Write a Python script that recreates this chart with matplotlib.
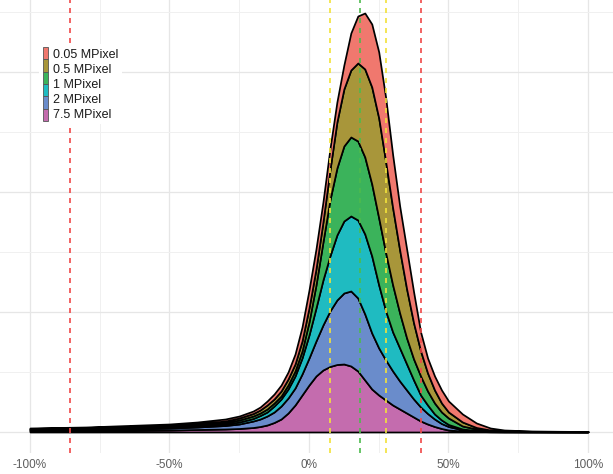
import matplotlib
matplotlib.use("Agg")
import matplotlib.pyplot as plt
from matplotlib.patches import Rectangle
from matplotlib.transforms import IdentityTransform
import numpy as np

plt.rcParams['font.family'] = ['Liberation Sans', 'DejaVu Sans']

# relative deviation (%) on the x axis
x_pct = [-100, -90, -80, -70, -60, -50, -40, -30, -25, -20, -17.5, -15, -12.5, -10, -7.5, -5, -2.5,
         0, 2.5, 5, 7.5, 10, 12.5, 15, 17.5, 20, 22.5, 25, 27.5, 30, 32.5, 35, 37.5, 40, 42.5, 45, 47.5, 50,
         55, 60, 65, 70, 80, 90, 100]

# stacked density, upper edge of each layer (bottom layer first)
top_pink = [1, 1.2, 1.4, 1.6, 1.8, 2, 2.5, 3, 3.5, 4.5, 5.5, 7, 9.5, 13, 19, 27, 37,
            47, 56, 62, 65.5, 67.5, 68, 66, 61, 52, 43, 37, 32, 27, 23, 19, 15, 11, 8, 5.5, 3.5, 2,
            1, 0.5, 0.3, 0.2, 0.15, 0.1, 0.1]
top_blue = [2, 2.3, 2.6, 3, 3.4, 4, 5, 6.5, 8, 11, 13, 16, 20, 26, 34, 44, 58,
            74, 91, 107, 121, 132, 139, 141, 134, 118, 99, 84, 72, 61, 51, 42, 33, 25, 18.5, 13, 8.5, 5.5,
            2.2, 1, 0.6, 0.4, 0.3, 0.25, 0.2]
top_teal = [2.5, 3, 3.3, 3.7, 4.2, 5, 6, 8, 10, 13.5, 16.5, 20, 26, 33, 43, 56, 74,
            97, 124, 152, 176, 197, 211, 216, 212, 198, 176, 147, 121, 100, 84, 68, 52, 37, 27, 18, 12, 7.5,
            3, 1.5, 0.8, 0.5, 0.4, 0.3, 0.25]
top_green = [3, 3.5, 4, 4.5, 5.2, 6, 7.5, 9.5, 12, 16, 19, 23, 29, 36, 47, 61, 81,
             110, 147, 190, 232, 264, 286, 295, 291, 275, 248, 214, 179, 147, 119, 94, 73, 56, 41, 29, 20, 14,
             6, 3, 1.5, 0.8, 0.5, 0.4, 0.3]
top_olive = [3.5, 4, 4.5, 5.2, 6, 7, 8.5, 11, 14, 18.5, 22, 27, 33, 41, 53, 68, 91,
             124, 163, 210, 262, 310, 343, 362, 369, 363, 345, 314, 270, 224, 182, 143, 109, 81, 59, 42, 29, 20,
             10, 4.5, 2, 1, 0.6, 0.5, 0.4]
top_red = [4, 4.5, 5, 6, 7, 8, 10, 13, 16, 21, 25, 31, 38, 47, 60, 78, 105,
           142, 183, 230, 283, 330, 367, 399, 416, 419, 408, 380, 334, 277, 226, 183, 140, 100, 74, 56, 42, 31,
           18, 9, 4, 2, 1, 0.7, 0.5]

layer_colors = ['#C46CAE', '#6A8CCB', '#1FBBC1', '#3BB35B', '#A8963A', '#F0786E']
legend_labels = ['0.05 MPixel', '0.5 MPixel', '1 MPixel', '2 MPixel', '7.5 MPixel']

red_lines = [-85.7, 40]
yellow_lines = [7.5, 27.6]
green_lines = [18.3]

fig = plt.figure(figsize=(6.13, 4.74), dpi=100)
ax = fig.add_axes([0, 21 / 474, 1, 453 / 474])
ax.set_xlim(-110.75, 108.96)
ax.set_ylim(-21, 432)

# grid
for v in [-100, -50, 0, 50, 100]:
    ax.axvline(v, color='#E6E6E6', lw=0.9, zorder=0)
for v in [-75, -25, 25, 75]:
    ax.axvline(v, color='#F0F0F0', lw=0.7, zorder=0)
for i, h in enumerate(range(0, 421, 60)):
    ax.axhline(h, color='#E6E6E6' if i % 2 == 0 else '#F0F0F0', lw=0.9 if i % 2 == 0 else 0.7, zorder=0)

tops = [top_pink, top_blue, top_teal, top_green, top_olive, top_red]
x = np.array(x_pct)
lower = np.zeros(len(x))
for top, col in zip(tops, layer_colors):
    top = np.array(top)
    ax.fill_between(x, lower, top, facecolor=col, edgecolor='black', lw=1.25, zorder=2)
    lower = top

dash = (0, (3, 3))
for v in red_lines:
    ax.axvline(v, color='#F04848', lw=1.2, ls=dash, zorder=3)
for v in yellow_lines:
    ax.axvline(v, color='#F2E23A', lw=1.2, ls=dash, zorder=3)
for v in green_lines:
    ax.axvline(v, color='#4DBB4D', lw=1.2, ls=dash, zorder=3)

ax.set_xticks([-100, -50, 0, 50, 100])
ax.set_xticklabels(['-100%', '-50%', '0%', '50%', '100%'])
ax.set_yticks([])
ax.tick_params(axis='x', length=0, labelsize=8.5, colors='#5E5E5E', pad=4)
for s in ax.spines.values():
    s.set_visible(False)

# legend box
H = 474
fig.add_artist(Rectangle((39, H - 124), 83, 80, transform=IdentityTransform(),
                         facecolor='white', edgecolor='none', zorder=5))
key_top, key_h = 47, 74 / 6
for i, col in enumerate(reversed(layer_colors)):
    y0 = H - (key_top + (i + 1) * key_h)
    fig.add_artist(Rectangle((43, y0), 4.5, key_h, transform=IdentityTransform(),
                             facecolor=col, edgecolor='#555555', lw=0.6, zorder=6))
for lab, yp in zip(legend_labels, [54.5, 70, 85, 100, 114.5]):
    fig.text(53 / 613, 1 - yp / H, lab, va='center', ha='left', fontsize=9, color='#1A1A1A', zorder=7)

fig.savefig('out.png', dpi=100)
